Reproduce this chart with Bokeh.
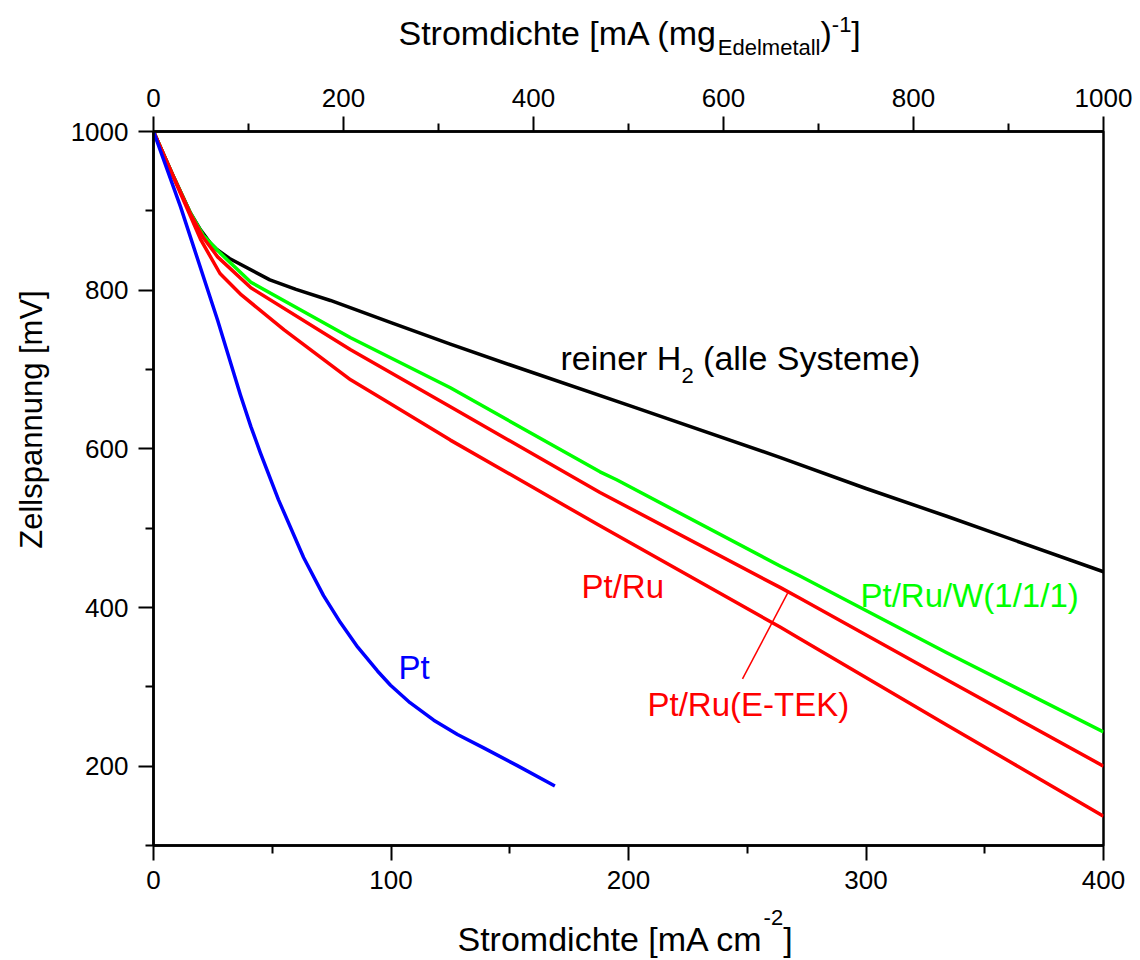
import math
from bokeh.plotting import figure
from bokeh.layouts import row, column
from bokeh.models import Range1d, LinearAxis, FixedTicker, Label
from bokeh.embed import file_html
from bokeh.resources import INLINE

# ---------------- data ----------------
h2_x = [0, 8, 15.6, 19.8, 24, 26.8, 32, 49, 60, 74.5, 100, 125, 150, 202, 264, 300, 334, 400]
h2_y = [1000, 946, 897, 876, 859, 851, 840, 813, 801, 787, 759, 732, 706, 653, 589, 550, 515, 445]

ptruw_x = [0, 8, 15.6, 21, 28, 41, 83, 125, 188, 195, 264, 272, 334, 400]
ptruw_y = [1000, 946, 897, 869, 847, 810, 740, 677, 571, 561, 452, 440, 343, 243]

ptru_etek_x = [0, 8, 15.6, 21, 27, 41, 83, 125, 188, 264, 272, 334, 400]
ptru_etek_y = [1000, 946, 896, 866, 842, 803, 725, 653, 545, 425, 412, 309, 200]

ptru_x = [0, 8, 20, 28, 37, 55, 83, 97, 125, 188, 264, 272, 334, 400]
ptru_y = [1000, 945, 863, 821, 794, 750, 687, 662, 611, 503, 375, 361, 252, 137]

pt_x = [0, 11.4, 27, 36.6, 41, 45, 52.6, 63.2, 71.6, 78.7, 86, 94.3, 99.8, 108, 118, 128, 139, 153, 169]
pt_y = [1000, 905, 762, 668, 628, 595, 536, 463, 415, 381, 350, 320, 302, 280, 258, 240, 223, 201, 175]

bottom_ticks = [0, 100, 200, 300, 400]
bottom_minor = [50, 150, 250, 350]
left_ticks = [200, 400, 600, 800, 1000]
left_minor = [100, 300, 500, 700, 900]
top_ticks = [0, 200, 400, 600, 800, 1000]
top_minor = [100, 300, 500, 700, 900]

leader_x = [267, 248]
leader_y = [418, 310]

FONT = "Liberation Sans"

# ---------------- main plot (page y 70..902) ----------------
p = figure(width=1080, height=832, x_range=Range1d(0, 400), y_range=Range1d(100, 1000),
           output_backend="svg", toolbar_location=None, title=None,
           min_border_left=93, min_border_right=37, min_border_top=61, min_border_bottom=57)
p.extra_x_ranges = {"top": Range1d(0, 1000)}
p.grid.visible = False
p.outline_line_color = "black"
p.outline_line_width = 2.5


def style_axis(ax, ticks, minor):
    ax.ticker = FixedTicker(ticks=ticks, minor_ticks=minor)
    ax.major_tick_out = 15
    ax.major_tick_in = 0
    ax.minor_tick_out = 8
    ax.minor_tick_in = 0
    ax.major_tick_line_width = 2
    ax.minor_tick_line_width = 2
    ax.major_tick_line_color = "black"
    ax.minor_tick_line_color = "black"
    ax.axis_line_width = 2.5
    ax.axis_line_color = "black"
    ax.major_label_text_font = FONT
    ax.major_label_text_font_size = "26px"
    ax.major_label_text_color = "black"
    ax.major_label_standoff = 10


style_axis(p.xaxis[0], bottom_ticks, bottom_minor)
style_axis(p.yaxis[0], left_ticks, left_minor)
top_axis = LinearAxis(x_range_name="top")
style_axis(top_axis, top_ticks, top_minor)
p.add_layout(top_axis, "above")

LW = 3.5
p.line(h2_x, h2_y, line_color="black", line_width=LW, line_join="round")
p.line(ptruw_x, ptruw_y, line_color="#00ff00", line_width=LW, line_join="round")
p.line(ptru_etek_x, ptru_etek_y, line_color="#ff0000", line_width=LW, line_join="round")
p.line(ptru_x, ptru_y, line_color="#ff0000", line_width=LW, line_join="round")
p.line(pt_x, pt_y, line_color="#0000ff", line_width=LW, line_join="round")
p.line(leader_x, leader_y, line_color="#ff0000", line_width=1.5)

# page pixel -> data helpers (frame spans x 153..1103, y 131..845 on the page)
FX0, FX1, FY0, FY1 = 153, 1103, 131, 845


def dx(px):
    return (px - FX0) * 400.0 / (FX1 - FX0)


def dy(py):
    return 1000.0 - (py - FY0) * 900.0 / (FY1 - FY0)


W = {' ': .278, '(': .333, ')': .333, '-': .333, '/': .278, '[': .278, ']': .278,
     'A': .667, 'E': .667, 'H': .722, 'S': .667, 'a': .556, 'c': .5, 'd': .556, 'e': .556,
     'g': .556, 'h': .556, 'i': .222, 'l': .222, 'm': .833, 'n': .556, 'o': .556, 'r': .333,
     's': .5, 't': .278, 'y': .5, '1': .556, '2': .556}


def tw(s, size):
    return sum(W.get(c, .556) for c in s) * size


BASE_FIX = 0.38  # baseline correction (fraction of font size) observed in rendering


def lab(fig, text, x, y, size, color="black", xo=0, yo=0, angle=0, align="left",
        baseline="alphabetic"):
    fix = BASE_FIX * size if baseline == "alphabetic" else 0
    fig.add_layout(Label(x=x, y=y, text=text, x_offset=xo, y_offset=yo + fix,
                         text_font=FONT, text_font_size=f"{size}px", text_color=color,
                         angle=angle, text_align=align, text_baseline=baseline))


# in-plot labels
t3 = "reiner H"
lab(p, t3, dx(560), dy(370), 34)
lab(p, "2", dx(560), dy(370), 22, xo=tw(t3, 34), yo=-13)
lab(p, "(alle Systeme)", dx(560), dy(370), 34, xo=tw(t3, 34) + tw("2", 22) + tw(" ", 34))
lab(p, "Pt/Ru", dx(581), dy(599), 33, color="#ff0000")
lab(p, "Pt/Ru(E-TEK)", dx(647), dy(717), 33, color="#ff0000")
lab(p, "Pt/Ru/W(1/1/1)", dx(860), dy(608), 33, color="#00ff00")
lab(p, "Pt", dx(398), dy(680), 33, color="#0000ff")


def strip(h, y0):
    # same left/right borders as the main plot, so frames line up in the column;
    # x data = page pixels of the frame (153..1103), y data = page pixels
    f = figure(width=1080, height=h, x_range=Range1d(FX0, FX1), y_range=Range1d(y0 + h, y0),
               output_backend="svg", toolbar_location=None, title=None,
               min_border_left=93, min_border_right=37, min_border_top=0, min_border_bottom=0,
               x_axis_location=None, y_axis_location=None)
    f.grid.visible = False
    f.outline_line_color = None
    return f


# top title strip (page y 0..70)
top = strip(70, 0)
t2 = "Stromdichte [mA (mg"
o = tw(t2, 34)
lab(top, t2, 398, 45, 34)
lab(top, "Edelmetall", 398, 45, 22, xo=o, yo=-10)
o += tw("Edelmetall", 22)
lab(top, ")", 398, 45, 34, xo=o)
o += tw(")", 34)
lab(top, "-1", 398, 45, 22, xo=o, yo=13)
o += tw("-1", 22)
lab(top, "]", 398, 45, 34, xo=o)

# bottom title strip (page y 902..960)
bot = strip(58, 902)
t1 = "Stromdichte [mA cm"
lab(bot, t1, 457, 951, 34)
lab(bot, "-2", 457, 951, 22, xo=tw(t1, 34), yo=26)
lab(bot, "]", 457, 951, 34, xo=tw(t1, 34) + tw("-2", 22))

# left title strip (page x 0..60)
left = figure(width=60, height=960, x_range=Range1d(0, 60), y_range=Range1d(960, 0),
              output_backend="svg", toolbar_location=None, title=None, min_border=0,
              x_axis_location=None, y_axis_location=None)
left.grid.visible = False
left.outline_line_color = None
lab(left, "Zellspannung [mV]", 31, 419, 31, angle=math.pi / 2, align="center", baseline="middle")

layout = row(left, column(top, p, bot, spacing=0), spacing=0)
open("out.html", "w").write(file_html(layout, INLINE))
